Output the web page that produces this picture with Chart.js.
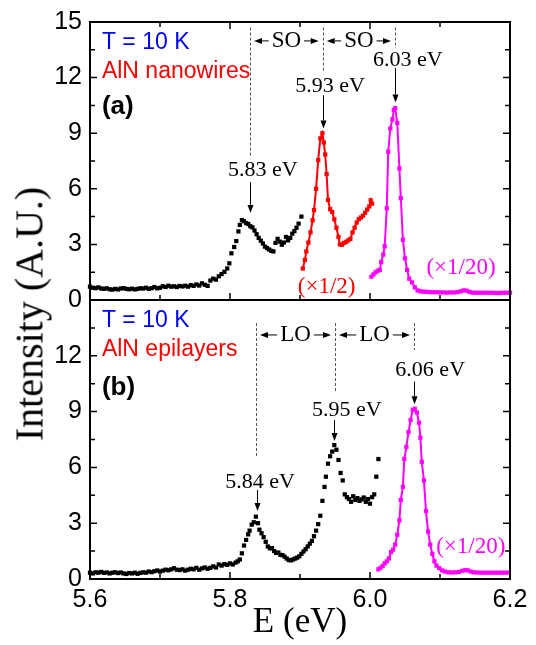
<!DOCTYPE html>
<html>
<head>
<meta charset="utf-8">
<script src="https://cdn.jsdelivr.net/npm/chart.js@4.4.1/dist/chart.umd.min.js"></script>
<style>
  body { margin: 0; background: #fff; }
  #wrap { position: relative; width: 536px; height: 645px; overflow: hidden; }
  #topChart { position: absolute; left: 0; top: 0; }
  #botChart { position: absolute; left: 0; top: 300px; }
  #ytitle {
    position: absolute; left: 29px; top: 314px;
    transform: translate(-50%, -50%) rotate(-90deg);
    font: 40px "Liberation Serif", "Times New Roman", serif;
    white-space: nowrap; color: #000;
  }
</style>
</head>
<body>
<div id="wrap">
  <canvas id="topChart" width="536" height="320"></canvas>
  <canvas id="botChart" width="536" height="345"></canvas>
  <div id="ytitle">Intensity (A.U.)</div>
</div>
<script>
// ---- axis ticks
const eTicks = [5.6, 5.7, 5.8, 5.9, 6.0, 6.1, 6.2];
const iTicks = [0, 1.5, 3, 4.5, 6, 7.5, 9, 10.5, 12, 13.5, 15];

// ---- (a) AlN nanowires
const aBlackE = [5.600,5.604,5.608,5.612,5.616,5.620,5.624,5.628,5.632,5.636,5.640,5.644,5.648,5.652,5.656,5.660,5.664,5.668,5.672,5.676,5.680,5.684,5.688,5.692,5.696,5.700,5.704,5.708,5.712,5.716,5.720,5.724,5.728,5.732,5.736,5.740,5.744,5.748,5.752,5.756,5.760,5.764,5.768,5.772,5.776,5.780,5.784,5.788,5.792,5.796,5.799,5.802,5.806,5.809,5.812,5.814,5.817,5.820,5.823,5.826,5.829,5.832,5.835,5.838,5.841,5.844,5.847,5.850,5.853,5.856,5.859,5.862,5.865,5.868,5.871,5.874,5.877,5.880,5.883,5.886,5.889,5.892,5.895,5.898,5.902];
const aBlackI = [0.72,0.66,0.64,0.68,0.62,0.60,0.63,0.58,0.56,0.60,0.57,0.62,0.64,0.60,0.58,0.61,0.57,0.60,0.63,0.62,0.66,0.60,0.64,0.70,0.63,0.66,0.74,0.70,0.77,0.72,0.74,0.70,0.76,0.73,0.77,0.72,0.80,0.76,0.84,0.78,0.90,0.82,0.76,1.05,1.15,1.10,1.28,1.40,1.52,1.70,1.98,2.52,2.86,3.18,3.70,4.05,4.31,4.25,4.15,4.10,3.98,3.92,3.75,3.55,3.35,3.20,3.05,2.88,2.80,2.72,2.65,2.62,3.08,3.30,3.15,2.98,3.10,3.40,3.22,3.35,3.58,3.72,3.90,4.12,4.50];

const aRedE = [5.904,5.907,5.909,5.912,5.915,5.918,5.920,5.923,5.926,5.929,5.932,5.934,5.936,5.938,5.940,5.943,5.946,5.949,5.952,5.955,5.957,5.960,5.963,5.966,5.969,5.972,5.975,5.978,5.981,5.984,5.987,5.990,5.993,5.996,5.999,6.001,6.003];
const aRedI = [1.70,2.16,2.62,3.10,3.65,4.30,4.85,6.00,7.55,8.72,9.00,8.50,7.85,6.80,5.40,4.90,4.75,4.35,3.90,3.40,3.00,2.98,3.08,3.14,3.22,3.30,3.65,3.90,4.18,4.36,4.45,4.55,4.70,4.88,5.05,5.38,5.20];

const aMagE = [6.002,6.005,6.008,6.011,6.014,6.016,6.019,6.021,6.024,6.026,6.029,6.032,6.034,6.036,6.039,6.042,6.044,6.047,6.050,6.053,6.056,6.060,6.064,6.068,6.072,6.076,6.080,6.085,6.090,6.095,6.100,6.105,6.110,6.115,6.120,6.125,6.130,6.134,6.138,6.142,6.146,6.150,6.155,6.160,6.165,6.170,6.175,6.180,6.185,6.190,6.195,6.200];
const aMagI = [1.26,1.38,1.50,1.58,1.62,2.05,2.45,2.90,4.95,8.00,9.25,9.75,10.25,10.35,9.55,7.10,5.50,3.25,2.25,1.62,1.15,0.95,0.68,0.52,0.47,0.45,0.44,0.43,0.42,0.42,0.41,0.41,0.40,0.41,0.41,0.43,0.47,0.52,0.50,0.44,0.40,0.39,0.39,0.39,0.39,0.39,0.39,0.38,0.38,0.39,0.39,0.39];

// ---- (b) AlN epilayers
const bBlackE = [5.600,5.604,5.608,5.612,5.616,5.620,5.624,5.628,5.632,5.636,5.640,5.644,5.648,5.652,5.656,5.660,5.664,5.668,5.672,5.676,5.680,5.684,5.688,5.692,5.696,5.700,5.704,5.708,5.712,5.716,5.720,5.724,5.728,5.732,5.736,5.740,5.744,5.748,5.752,5.756,5.760,5.764,5.768,5.772,5.776,5.780,5.784,5.788,5.792,5.796,5.800,5.804,5.808,5.811,5.814,5.817,5.820,5.823,5.826,5.828,5.831,5.834,5.837,5.840,5.842,5.845,5.848,5.851,5.854,5.857,5.860,5.863,5.866,5.869,5.872,5.875,5.878,5.881,5.884,5.887,5.890,5.893,5.896,5.899,5.902,5.905,5.908,5.911,5.914,5.917,5.920,5.923,5.926,5.929,5.932,5.935,5.937,5.940,5.943,5.946,5.949,5.952,5.955,5.958,5.961,5.964,5.967,5.970,5.973,5.976,5.979,5.982,5.985,5.988,5.991,5.994,5.997,6.000,6.003,6.006,6.009,6.012];
const bBlackI = [0.34,0.30,0.36,0.34,0.38,0.33,0.35,0.30,0.34,0.36,0.32,0.35,0.30,0.27,0.32,0.30,0.34,0.28,0.33,0.36,0.34,0.40,0.37,0.42,0.46,0.40,0.45,0.50,0.47,0.52,0.58,0.50,0.48,0.52,0.45,0.50,0.55,0.52,0.60,0.50,0.57,0.62,0.55,0.60,0.68,0.62,0.78,0.72,0.80,0.76,0.84,0.78,0.88,0.95,1.05,1.38,1.80,2.10,2.40,2.60,2.92,3.05,3.35,3.00,2.65,2.46,2.25,2.00,1.75,1.65,1.66,1.50,1.40,1.42,1.30,1.28,1.20,1.10,1.02,1.00,1.05,1.10,1.15,1.22,1.35,1.48,1.60,1.75,1.90,2.05,2.30,2.60,2.95,3.40,4.20,4.95,5.50,6.20,6.60,6.85,7.20,6.95,6.40,5.70,5.30,4.55,4.40,4.30,4.15,4.45,4.25,4.35,4.20,4.28,4.38,4.15,4.30,4.05,4.40,4.55,5.50,6.45];

const bMagE = [6.012,6.015,6.018,6.021,6.024,6.027,6.030,6.033,6.036,6.039,6.042,6.044,6.047,6.049,6.052,6.055,6.058,6.061,6.064,6.067,6.070,6.072,6.074,6.077,6.080,6.083,6.086,6.089,6.092,6.095,6.099,6.103,6.107,6.112,6.117,6.122,6.127,6.132,6.136,6.140,6.144,6.148,6.153,6.158,6.163,6.168,6.173,6.178,6.183,6.188,6.193,6.198];
const bMagI = [0.52,0.60,0.70,0.84,0.95,1.10,1.45,1.58,1.85,2.38,3.15,4.25,4.95,6.45,7.10,7.90,8.55,9.10,9.15,8.95,8.40,7.60,6.30,5.30,3.65,2.55,1.85,1.35,0.95,0.72,0.58,0.46,0.40,0.36,0.35,0.36,0.38,0.44,0.48,0.46,0.40,0.36,0.35,0.34,0.34,0.34,0.34,0.34,0.34,0.34,0.34,0.34];

const SANS = '"Liberation Sans", Arial, sans-serif';
const SERIF = '"Liberation Serif", "Times New Roman", serif';

function pts(es, is) {
  return es.map((e, i) => ({ x: e, y: is[i] }));
}

function drawArrow(ctx, x1, y1, x2, y2) {
  const ang = Math.atan2(y2 - y1, x2 - x1);
  const hl = 8, hw = 3;
  ctx.beginPath();
  ctx.moveTo(x1, y1);
  ctx.lineTo(x2 - Math.cos(ang) * hl, y2 - Math.sin(ang) * hl);
  ctx.stroke();
  ctx.beginPath();
  ctx.moveTo(x2, y2);
  ctx.lineTo(x2 - Math.cos(ang) * hl - Math.sin(ang) * hw, y2 - Math.sin(ang) * hl + Math.cos(ang) * hw);
  ctx.lineTo(x2 - Math.cos(ang) * hl + Math.sin(ang) * hw, y2 - Math.sin(ang) * hl - Math.cos(ang) * hw);
  ctx.closePath();
  ctx.fill();
}

// frame + inward ticks on every side
const frameTicks = {
  id: 'frameTicks',
  afterDraw(chart, args, opts) {
    const { ctx, chartArea: a, scales: { x, y } } = chart;
    ctx.save();
    ctx.strokeStyle = '#000';
    ctx.lineWidth = 1.5;
    ctx.beginPath();
    eTicks.forEach((v, i) => {
      const px = x.getPixelForValue(v);
      const len = i % 2 === 0 ? 7 : 5;
      ctx.moveTo(px, a.bottom); ctx.lineTo(px, a.bottom - len);
      if (opts.topTicks) { ctx.moveTo(px, a.top); ctx.lineTo(px, a.top + len); }
    });
    iTicks.forEach((v, i) => {
      const py = y.getPixelForValue(v);
      const len = i % 2 === 0 ? 7 : 5;
      ctx.moveTo(a.left, py); ctx.lineTo(a.left + len, py);
      ctx.moveTo(a.right, py); ctx.lineTo(a.right - len, py);
    });
    ctx.stroke();
    ctx.lineWidth = 2;
    ctx.strokeRect(a.left, a.top, a.right - a.left, a.bottom - a.top);
    ctx.restore();
  }
};

// text, guide lines and arrows placed in data coordinates
const notes = {
  id: 'notes',
  afterDraw(chart, args, opts) {
    const { ctx, scales: { x, y } } = chart;
    ctx.save();
    ctx.strokeStyle = '#555';
    ctx.lineWidth = 1;
    ctx.setLineDash([3, 2]);
    opts.guides.forEach(g => {
      const px = Math.round(x.getPixelForValue(g.e)) + 0.5;
      ctx.beginPath();
      ctx.moveTo(px, y.getPixelForValue(g.from));
      ctx.lineTo(px, y.getPixelForValue(g.to));
      ctx.stroke();
    });
    ctx.setLineDash([]);

    ctx.strokeStyle = '#000';
    ctx.fillStyle = '#000';
    ctx.lineWidth = 1;
    opts.peaks.forEach(p => {
      const px = Math.round(x.getPixelForValue(p.e)) + 0.5;
      drawArrow(ctx, px, y.getPixelForValue(p.from), px, y.getPixelForValue(p.to));
    });

    ctx.textBaseline = 'middle';
    ctx.font = '23px ' + SERIF;
    opts.spans.forEach(s => {
      const xa = x.getPixelForValue(s.a), xb = x.getPixelForValue(s.b);
      const py = y.getPixelForValue(s.i);
      const mid = (xa + xb) / 2;
      const w = ctx.measureText(s.text).width;
      ctx.textAlign = 'center';
      ctx.fillText(s.text, mid, py);
      drawArrow(ctx, mid - w / 2 - 3, py, xa + 4, py);
      drawArrow(ctx, mid + w / 2 + 3, py, xb - 4, py);
    });

    opts.texts.forEach(t => {
      ctx.font = t.font;
      ctx.fillStyle = t.color;
      ctx.textAlign = t.align || 'center';
      ctx.fillText(t.text, x.getPixelForValue(t.e), y.getPixelForValue(t.i));
    });
    ctx.restore();
  }
};

function baseOptions(bottom) {
  return {
    responsive: false,
    animation: false,
    events: [],
    layout: { autoPadding: false, padding: bottom ? { left: 0, right: 26, top: 0, bottom: 0 } : { left: 0, right: 26, top: 22, bottom: 20 } },
    scales: {
      x: {
        type: 'linear', min: 5.6, max: 6.2,
        display: bottom,
        grid: { display: false, drawTicks: false },
        border: { display: false },
        ticks: {
          stepSize: 0.2, autoSkip: false, maxRotation: 0, padding: 6,
          color: '#000', font: { family: SANS, size: 25 },
          callback: v => v.toFixed(1)
        },
        title: {
          display: bottom, text: 'E (eV)', color: '#000',
          font: { family: SERIF, size: 35 }, padding: { top: 0, bottom: 1 }
        },
        afterFit(scale) { scale.height = bottom ? 66 : 0; }
      },
      y: {
        type: 'linear', min: 0, max: 15,
        grid: { display: false, drawTicks: false },
        border: { display: false },
        ticks: {
          stepSize: 3, padding: 8, color: '#000', font: { family: SANS, size: 25 },
          callback: v => (bottom && v === 15) ? '' : String(v)
        },
        afterFit(scale) {
          scale.width = 90;
          scale.paddingTop = 0;
          scale.paddingBottom = 0;
        }
      }
    },
    plugins: { legend: { display: false }, tooltip: { enabled: false } }
  };
}

function markers(data, color, withLine) {
  return {
    data: data,
    showLine: withLine,
    borderColor: color,
    backgroundColor: color,
    borderWidth: 2,
    pointStyle: 'rect',
    pointRadius: 3,
    pointBorderWidth: 0,
    pointBackgroundColor: color,
    clip: 4
  };
}

const topOpts = baseOptions(false);
topOpts.plugins.frameTicks = { topTicks: true };
topOpts.plugins.notes = {
  guides: [
    { e: 5.8286, from: 14.7, to: 7.7 },
    { e: 5.9324, from: 14.7, to: 12.3 },
    { e: 6.0357, from: 14.7, to: 13.6 }
  ],
  peaks: [
    { e: 5.8286, from: 6.36, to: 4.7 },
    { e: 5.9324, from: 11.05, to: 9.25 },
    { e: 6.0357, from: 12.51, to: 10.65 }
  ],
  spans: [
    { a: 5.8286, b: 5.9324, i: 13.98, text: 'SO' },
    { a: 5.9324, b: 6.0357, i: 13.98, text: 'SO' }
  ],
  texts: [
    { text: 'T = 10 K', e: 5.617, i: 13.87, align: 'left', color: '#0000ff', font: '23px ' + SANS },
    { text: 'AlN nanowires', e: 5.617, i: 12.31, align: 'left', color: '#ff0000', font: '23px ' + SANS },
    { text: '(a)', e: 5.617, i: 10.42, align: 'left', color: '#000', font: 'bold 26px ' + SANS },
    { text: '5.83 eV', e: 5.847, i: 7.0, color: '#000', font: '22px ' + SERIF },
    { text: '5.93 eV', e: 5.943, i: 11.54, color: '#000', font: '22px ' + SERIF },
    { text: '6.03 eV', e: 6.054, i: 12.94, color: '#000', font: '22px ' + SERIF },
    { text: '(×1/2)', e: 5.938, i: 0.70, color: '#ff0000', font: '23px ' + SERIF },
    { text: '(×1/20)', e: 6.13, i: 1.73, color: '#ff00ff', font: '23px ' + SERIF }
  ]
};

new Chart(document.getElementById('topChart'), {
  type: 'scatter',
  data: {
    datasets: [
      markers(pts(aBlackE, aBlackI), '#000000', false),
      markers(pts(aRedE, aRedI), '#ff0000', true),
      markers(pts(aMagE, aMagI), '#ff00ff', true)
    ]
  },
  options: topOpts,
  plugins: [frameTicks, notes]
});

const botOpts = baseOptions(true);
botOpts.plugins.frameTicks = { topTicks: false };
botOpts.plugins.notes = {
  guides: [
    { e: 5.8371, from: 13.76, to: 6.5 },
    { e: 5.95, from: 13.76, to: 10.0 },
    { e: 6.0629, from: 13.76, to: 12.31 }
  ],
  peaks: [
    { e: 5.8381, from: 4.78, to: 3.65 },
    { e: 5.949, from: 8.55, to: 7.42 },
    { e: 6.0629, from: 10.61, to: 9.4 }
  ],
  spans: [
    { a: 5.8371, b: 5.95, i: 13.12, text: 'LO' },
    { a: 5.95, b: 6.0629, i: 13.12, text: 'LO' }
  ],
  texts: [
    { text: 'T = 10 K', e: 5.617, i: 13.89, align: 'left', color: '#0000ff', font: '23px ' + SANS },
    { text: 'AlN epilayers', e: 5.617, i: 12.31, align: 'left', color: '#ff0000', font: '23px ' + SANS },
    { text: '(b)', e: 5.617, i: 10.27, align: 'left', color: '#000', font: 'bold 26px ' + SANS },
    { text: '5.84 eV', e: 5.843, i: 5.23, color: '#000', font: '22px ' + SERIF },
    { text: '5.95 eV', e: 5.967, i: 9.09, color: '#000', font: '22px ' + SERIF },
    { text: '6.06 eV', e: 6.086, i: 11.24, color: '#000', font: '22px ' + SERIF },
    { text: '(×1/20)', e: 6.144, i: 1.72, color: '#ff00ff', font: '23px ' + SERIF }
  ]
};

new Chart(document.getElementById('botChart'), {
  type: 'scatter',
  data: {
    datasets: [
      markers(pts(bBlackE, bBlackI), '#000000', false),
      markers(pts(bMagE, bMagI), '#ff00ff', true)
    ]
  },
  options: botOpts,
  plugins: [frameTicks, notes]
});
</script>
</body>
</html>
